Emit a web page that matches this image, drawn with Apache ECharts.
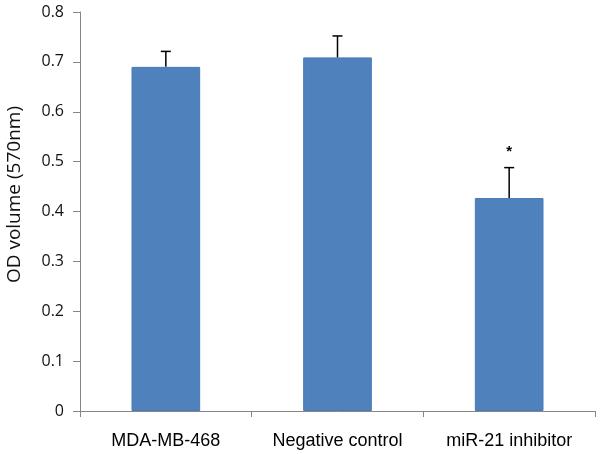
<!DOCTYPE html>
<html><head><meta charset="utf-8">
<script src="https://cdn.jsdelivr.net/npm/echarts@6/dist/echarts.min.js"></script>
<style>html,body{margin:0;padding:0;background:#fff}#c{width:600px;height:454px}</style>
</head><body><div id="c"></div>
<script>
var categories = ['MDA-MB-468', 'Negative control', 'miR-21 inhibitor'];
var values = [0.69, 0.709, 0.427];
var errors = [0.031, 0.043, 0.061];
var marks = ['', '', '*'];
var yTicks = [0, 0.1, 0.2, 0.3, 0.4, 0.5, 0.6, 0.7, 0.8];
var yTitle = 'OD volume (570nm)';

var xFont = 'Liberation Sans, Arial, sans-serif';
var yFont = 'Open Sans, Liberation Sans, sans-serif';
var chart = echarts.init(document.getElementById('c'), null, {renderer: 'canvas'});
chart.setOption({
  animation: false,
  grid: {left: 80, right: 5, top: 12, bottom: 43},
  graphic: [{
    type: 'text', left: 5, top: 106, rotation: Math.PI / 2,
    style: {text: yTitle, fill: '#111', font: '19px ' + yFont}
  }],
  xAxis: {
    type: 'category', data: categories,
    axisLine: {lineStyle: {color: '#868686', width: 1}},
    axisTick: {show: true, length: 6, lineStyle: {color: '#868686'}},
    axisLabel: {color: '#000', fontFamily: xFont, fontSize: 18, margin: 21}
  },
  yAxis: {
    type: 'value', min: 0, max: 0.8, interval: 0.1,
    axisLine: {show: true, lineStyle: {color: '#868686', width: 1}},
    axisTick: {show: true, length: 7, lineStyle: {color: '#868686'}},
    splitLine: {show: false},
    axisLabel: {color: '#111', fontFamily: yFont, fontSize: 16, margin: 16,
      formatter: function (v) { var r = Math.round(v * 10) / 10; return yTicks.indexOf(r) >= 0 ? String(r) : ''; }}
  },
  series: [
    {type: 'bar', data: values, barWidth: '40%',
     itemStyle: {color: '#4F81BD', borderColor: '#4A7BB6', borderWidth: 1}},
    {type: 'custom', data: values.map(function (v, i) { return [i, v, v + errors[i]]; }),
     z: 5,
     renderItem: function (params, api) {
       var x = api.value(0);
       var p0 = api.coord([x, api.value(1)]);
       var p1 = api.coord([x, api.value(2)]);
       var children = [
         {type: 'line', shape: {x1: p0[0], y1: p0[1], x2: p1[0], y2: p1[1]}, style: {stroke: '#000', lineWidth: 1.5}},
         {type: 'line', shape: {x1: p0[0] - 5, y1: p1[1], x2: p0[0] + 5, y2: p1[1]}, style: {stroke: '#000', lineWidth: 1.5}}
       ];
       var m = marks[params.dataIndex];
       if (m) {
         children.push({type: 'text', style: {text: m, x: p0[0], y: p1[1] - 8, textAlign: 'center', textVerticalAlign: 'bottom', fill: '#000', font: 'bold 15px ' + xFont}});
       }
       return {type: 'group', children: children};
     }}
  ]
});
</script></body></html>
